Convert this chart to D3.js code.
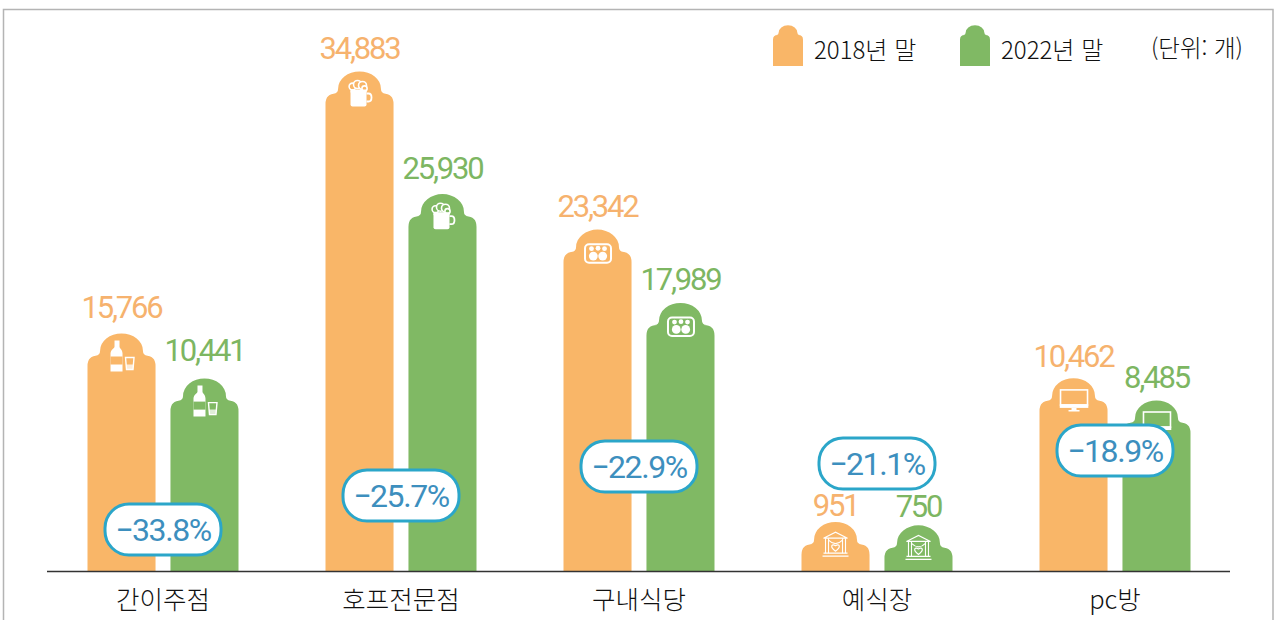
<!DOCTYPE html>
<html lang="ko">
<head>
<meta charset="utf-8">
<style>
  html, body { margin: 0; background: #fff; }
  svg { display: block; }
  text { font-family: "Noto Sans CJK KR", "Noto Sans", sans-serif; }
  .num { font-family: Roboto, "Noto Sans", sans-serif; }
</style>
</head>
<body>
<svg id="chart" width="1275" height="620"></svg>
<script src="https://cdn.jsdelivr.net/npm/d3@7"></script>
<script>
const categories = ['간이주점', '호프전문점', '구내식당', '예식장', 'pc방'];
const seriesNames = ['2018년 말', '2022년 말'];
const values2018 = [15766, 34883, 23342, 951, 10462];
const values2022 = [10441, 25930, 17989, 750, 8485];
const changes = ['−33.8%', '−25.7%', '−22.9%', '−21.1%', '−18.9%'];
const unitLabel = '(단위: 개)';
const icons = ['bottle', 'mug', 'tray', 'hall', 'monitor'];

const colors = ['#f9b668', '#80b964'];
const textColors = ['#f6b26e', '#7db662'];

const svg = d3.select('#chart');
const baseY = 571.5;

// the source picture is not drawn to a strictly linear axis, so the scale has a few stops
const y = d3.scaleLinear()
  .domain([0, 8485, 10450, 15766, 34883])
  .range([baseY - 12, baseY - 149, baseY - 171, baseY - 216, baseY - 478]);

const x0 = d3.scaleBand().domain(categories).range([44, 1234]);
const x1 = d3.scaleBand().domain([0, 1]).range([-75.5, 75.5]).paddingInner(0.18);
const barW = x1.bandwidth();

// hand placed in the source: badge heights above the baseline, label gaps above the domes
const badgeLift = [42, 76, 105, 108, 121];
const labelGaps = [[15, 12, 13, 6, 11], [17, 15, 13, 8, 12]];

// frame
svg.append('path')
  .attr('d', 'M3.5,620V9.5H1273V620')
  .attr('fill', 'none').attr('stroke', '#b4b4b4').attr('stroke-width', 1.5);

function barPath(left, w, top, bottom) {
  const cx = left + w / 2;
  const r = w * 0.155;
  const dome = w * 0.315;
  const rise = w * 0.325;
  const neck = w * 0.07;
  return `M${left},${bottom}V${top + r}Q${left},${top} ${left + r},${top}` +
    `H${cx - dome - neck}Q${cx - dome},${top} ${cx - dome},${top - neck}` +
    `A${dome},${rise - neck} 0 0 1 ${cx + dome},${top - neck}` +
    `Q${cx + dome},${top} ${cx + dome + neck},${top}` +
    `H${left + w - r}Q${left + w},${top} ${left + w},${top + r}V${bottom}Z`;
}

function drawIcon(g, name, fill) {
  const white = '#fff';
  if (name === 'bottle') {
    g.append('path').attr('fill', white)
      .attr('d', 'M-8,-15H-3V-9C-3,-7 0,-6 0,-2V16H-12V-2C-12,-6 -8,-7 -8,-9Z')
      .attr('transform', 'translate(1,0)');
    g.append('rect').attr('x', -11).attr('y', 1).attr('width', 12).attr('height', 8).attr('fill', fill);
    g.append('path').attr('fill', 'none').attr('stroke', white).attr('stroke-width', 1.4)
      .attr('d', 'M4,2H12.5L11.5,14H5Z');
    g.append('path').attr('fill', white).attr('d', 'M4.6,9H12L11.5,14H5Z').attr('opacity', 0.75);
  } else if (name === 'mug') {
    g.append('path').attr('fill', white).attr('d', 'M-9,-3H7V11Q7,13 5,13H-7Q-9,13 -9,11Z');
    g.append('path').attr('fill', 'none').attr('stroke', white).attr('stroke-width', 1.8)
      .attr('d', 'M7,0H9Q12,0 12,4Q12,8 9,8H7');
    g.append('path').attr('fill', fill).attr('d', 'M-11,-10H9V-3H-11Z');
    [[-7, -7, 3.4], [-2, -9, 4], [3, -8, 4], [5, -5, 2.6]].forEach(c => {
      g.append('circle').attr('cx', c[0]).attr('cy', c[1]).attr('r', c[2])
        .attr('fill', fill).attr('stroke', white).attr('stroke-width', 1.6);
    });
    g.append('path').attr('fill', white).attr('d', 'M-9,-4H7V-1H-9Z');
  } else if (name === 'tray') {
    g.append('rect').attr('x', -12.5).attr('y', -7.5).attr('width', 26).attr('height', 18.5).attr('rx', 4)
      .attr('fill', 'none').attr('stroke', white).attr('stroke-width', 2);
    [[-6, -3, 2.4], [0.5, -3.4, 2.4], [7, -3, 2.4], [-4.2, 4.4, 4.4], [5.2, 4.4, 4.4]].forEach(c => {
      g.append('circle').attr('cx', c[0]).attr('cy', c[1]).attr('r', c[2]).attr('fill', white);
    });
  } else if (name === 'monitor') {
    g.append('rect').attr('x', -13).attr('y', -10.5).attr('width', 27).attr('height', 15)
      .attr('fill', 'none').attr('stroke', white).attr('stroke-width', 1.6);
    g.append('rect').attr('x', -13.8).attr('y', 4).attr('width', 28.6).attr('height', 3.5).attr('fill', white);
    g.append('path').attr('fill', white).attr('d', 'M-2,7.5H3V9.5H6V11H-5V9.5H-2Z');
  } else if (name === 'hall') {
    const line = g.append('g').attr('fill', 'none').attr('stroke', white).attr('stroke-width', 1.1);
    line.append('path').attr('d', 'M-12,-6L0,-12L12,-6Z');
    line.append('path').attr('d', 'M-10,-6V9M-7,-6V9M7,-6V9M10,-6V9');
    line.append('path').attr('d', 'M-7,-4Q0,3 7,-4');
    line.append('path').attr('d', 'M-12,9H12M-13,12H13');
    g.append('path').attr('fill', 'none').attr('stroke', white).attr('stroke-width', 1.2)
      .attr('d', 'M0,7C-6,3 -4,-1 0,1.5C4,-1 6,3 0,7Z');
  }
}

// bars, values and icons
const seriesValues = [values2018, values2022];
seriesValues.forEach((vals, s) => {
  vals.forEach((v, i) => {
    const left = x0(categories[i]) + x0.bandwidth() / 2 + x1(s);
    const top = y(v);
    svg.append('path').attr('d', barPath(left, barW, top, baseY)).attr('fill', colors[s]);
    const icon = svg.append('g').attr('transform', `translate(${left + barW / 2},${top})`);
    drawIcon(icon, icons[i], colors[s]);
    svg.append('text')
      .attr('class', 'num')
      .attr('x', left + barW / 2)
      .attr('y', top - barW * 0.325 - labelGaps[s][i])
      .attr('text-anchor', 'middle')
      .attr('font-size', 31)
      .attr('letter-spacing', -2.2)
      .attr('fill', textColors[s])
      .text(d3.format(',')(v));
  });
});

// baseline
svg.append('line')
  .attr('x1', 47).attr('x2', 1230).attr('y1', baseY).attr('y2', baseY)
  .attr('stroke', '#333').attr('stroke-width', 1.5);

// category labels
svg.selectAll('.cat').data(categories).join('text')
  .attr('class', 'cat')
  .attr('x', d => x0(d) + x0.bandwidth() / 2)
  .attr('y', 609)
  .attr('text-anchor', 'middle')
  .attr('font-size', 25.5)
  .attr('font-weight', 300)
  .attr('fill', '#111')
  .text(d => d);

// change badges
const badges = svg.selectAll('.badge').data(changes).join('g')
  .attr('class', 'badge')
  .attr('transform', (d, i) => `translate(${x0(categories[i]) + x0.bandwidth() / 2},${baseY - badgeLift[i]})`);
badges.append('rect')
  .attr('x', -58).attr('y', -25.5).attr('width', 116).attr('height', 51).attr('rx', 24)
  .attr('fill', '#fff').attr('stroke', '#2ba6c9').attr('stroke-width', 3);
badges.append('text')
  .attr('class', 'num')
  .attr('y', 11)
  .attr('text-anchor', 'middle')
  .attr('font-size', 32)
  .attr('letter-spacing', -1.4)
  .attr('fill', '#3d8fbe')
  .text(d => d);

// legend
const legendX = [773, 960];
seriesNames.forEach((name, s) => {
  svg.append('path').attr('d', barPath(legendX[s], 30, 35, 66)).attr('fill', colors[s]);
  svg.append('text')
    .attr('x', legendX[s] + 41).attr('y', 59)
    .attr('font-size', 24).attr('font-weight', 300).attr('fill', '#111')
    .text(name);
});
svg.append('text')
  .attr('x', 1243).attr('y', 57).attr('text-anchor', 'end')
  .attr('font-size', 23.5).attr('font-weight', 300).attr('fill', '#111')
  .text(unitLabel);
</script>
</body>
</html>
